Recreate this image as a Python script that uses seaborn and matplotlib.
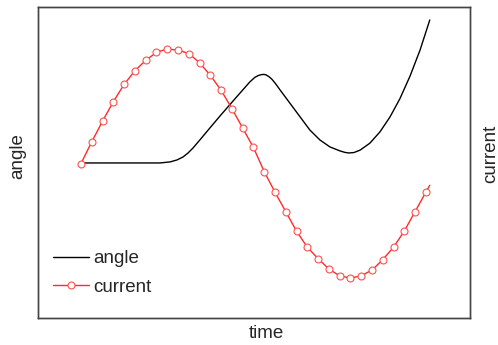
import matplotlib
matplotlib.use("Agg")
import matplotlib.pyplot as plt
import seaborn as sns
import pandas as pd

# current: sampled every 0.3 time units, plus the final point of the trace
current_time = [0.0, 0.3, 0.6, 0.9, 1.2, 1.5, 1.8, 2.1, 2.4, 2.7, 3.0, 3.3, 3.6,
                3.9, 4.2, 4.5, 4.8, 5.1, 5.4, 5.7, 6.0, 6.3, 6.6, 6.9, 7.2, 7.5,
                7.8, 8.1, 8.4, 8.7, 9.0, 9.3, 9.6, 9.71]
current_vals = [0.00, 0.19, 0.37, 0.54, 0.69, 0.81, 0.90, 0.97, 1.00, 0.99, 0.96,
                0.88, 0.77, 0.64, 0.48, 0.31, 0.14, -0.07, -0.25, -0.42, -0.59,
                -0.73, -0.83, -0.92, -0.98, -1.00, -0.98, -0.93, -0.84, -0.73,
                -0.59, -0.42, -0.25, -0.19]
n_markers = 33

# angle trace
angle_time = [0.0, 1.92, 2.20, 2.48, 2.67, 2.84, 2.98, 3.12, 3.31, 3.59, 3.87,
              4.15, 4.43, 4.70, 4.84, 4.93, 5.01, 5.09, 5.15, 5.23, 5.32, 5.43,
              5.54, 5.82, 6.10, 6.37, 6.65, 6.93, 7.21, 7.35, 7.46, 7.60, 7.77,
              8.04, 8.32, 8.60, 8.88, 9.16, 9.44, 9.71]
angle_vals = [0.000, 0.000, 0.000, 0.009, 0.026, 0.052, 0.087, 0.131, 0.201, 0.306,
              0.410, 0.511, 0.611, 0.707, 0.747, 0.762, 0.770, 0.773, 0.769, 0.754,
              0.729, 0.686, 0.638, 0.520, 0.402, 0.288, 0.201, 0.140, 0.105, 0.092,
              0.087, 0.091, 0.112, 0.172, 0.270, 0.400, 0.562, 0.758, 0.986, 1.248]

angle_df = pd.DataFrame({"time": angle_time, "angle": angle_vals})
current_df = pd.DataFrame({"time": current_time, "current": current_vals})

sns.set_style("white")
plt.rcParams["font.family"] = ["Liberation Sans", "DejaVu Sans"]

fig = plt.figure(figsize=(4.98, 3.45), dpi=100)
ax = fig.add_axes([0.0763, 0.078, 0.8675, 0.902])
ax2 = ax.twinx()

sns.lineplot(data=angle_df, x="time", y="angle", ax=ax, color="black",
             linewidth=1.0, label="angle", legend=False)
sns.lineplot(data=current_df, x="time", y="current", ax=ax2, color="#ff2a2a",
             linewidth=1.0, marker="o", markersize=5, markerfacecolor="white",
             markeredgecolor="#ff5050", markeredgewidth=0.8,
             markevery=list(range(n_markers)), label="current", legend=False)

ax.set_xlim(-1.197, 10.83)
ax.set_ylim(-1.354, 1.362)
ax2.set_ylim(-1.349, 1.367)

for a in (ax, ax2):
    a.set_xticks([])
    a.set_yticks([])
    for s in a.spines.values():
        s.set_color("#444444")
        s.set_linewidth(1.0)

ax.set_xlabel("time", fontsize=13.5)
ax.set_ylabel("angle", fontsize=13.5)
ax2.set_ylabel("current", fontsize=13.5)
ax.xaxis.set_label_coords(0.528, -0.022)
ax.yaxis.set_label_coords(-0.028, 0.521)
ax2.yaxis.set_label_coords(1.028, 0.527)

h1, l1 = ax.get_legend_handles_labels()
h2, l2 = ax2.get_legend_handles_labels()
ax2.legend(h1 + h2, l1 + l2, loc="lower left", frameon=False, fontsize=13.5,
           handlelength=1.9, handletextpad=0.25, labelspacing=0.6,
           borderaxespad=0.3, bbox_to_anchor=(0.005, 0.03))

fig.savefig("out.png", dpi=100)
plt.close(fig)
